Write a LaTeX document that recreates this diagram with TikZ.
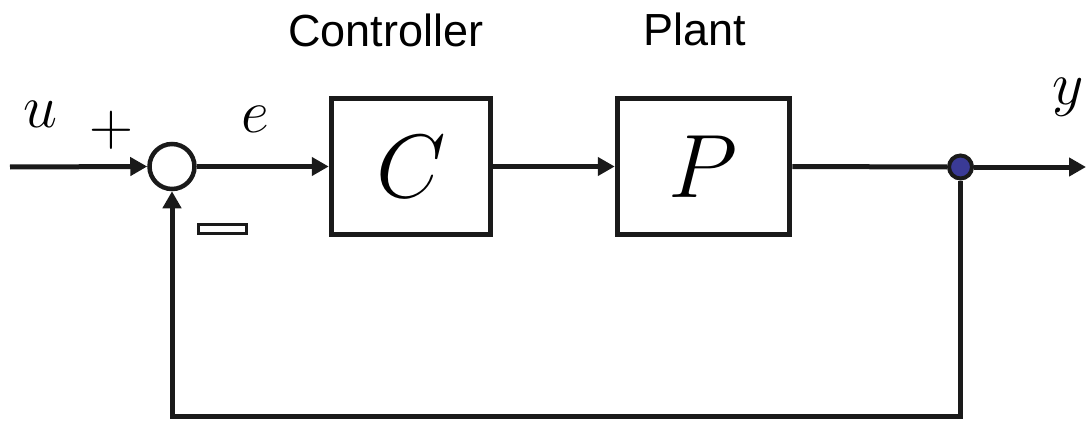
\RequirePackage{fix-cm}
\documentclass[tikz,border=0pt]{standalone}
\usepackage{fontspec}
\newfontfamily\labfont{Liberation Sans}
\usetikzlibrary{arrows.meta}
\definecolor{ink}{RGB}{26,26,26}
\definecolor{dotblue}{RGB}{58,58,150}
\tikzset{
  wire/.style={draw=ink, line width=5pt},
  arr/.style={wire, -{Triangle[length=17pt,width=18pt]}},
  blk/.style={draw=ink, line width=5.5pt, minimum height=136pt, inner sep=0pt},
  caption/.style={font=\labfont\fontsize{45}{54}\selectfont, anchor=base, inner sep=0pt},
  sym/.style={inner sep=0pt},
}
\newcommand{\bigmath}[1]{\fontsize{90}{100}\selectfont$#1$}
\newcommand{\midmath}[1]{\fontsize{61}{70}\selectfont$#1$}
\begin{document}
\begin{tikzpicture}[x=1pt,y=-1pt]
\useasboundingbox (0,0) rectangle (1086,425);

% summing junction, blocks and pick-off point
\node[draw=ink, line width=4.5pt, circle, minimum size=45pt, inner sep=0pt] (sum) at (172,166.5) {};
\node[blk, minimum width=159pt] (C) at (411,166.5) {\bigmath{C}};
\node[blk, minimum width=172pt] (P) at (703.5,166.5) {\bigmath{P}};
\node[draw=ink, line width=4pt, fill=dotblue, circle, minimum size=23pt, inner sep=0pt] (tap) at (960.5,167) {};

\coordinate (in) at (10,167);
\coordinate (out) at (1086,167);
\coordinate (br) at (960.5,416);
\coordinate (bl) at (172,416);

% block titles
\node[caption] (ctl) at (386,47) {Controller};
\node[caption] (plt) at (695,46) {Plant};

% signal labels
\node[sym] (u) at (40,114) {\midmath{u}};
\node[sym] (plus) at (111,130) {\midmath{+}};
\node[sym] (e) at (255,119) {\midmath{e}};
\node[sym] (y) at (1068,97) {\midmath{y}};

% minus sign on the feedback input
\node[draw=ink, line width=3pt, fill=white, minimum width=48pt, minimum height=9pt, inner sep=0pt] (minus) at (222.5,229) {};

% signal paths
\draw[arr] (in) -- (sum.west);
\draw[arr] (sum.east) -- (C.west);
\draw[arr] (C.east) -- (P.west);
\draw[wire] (P.east) -- (tap.west);
\draw[arr] (tap.east) -- (out);
\draw[arr, line join=miter] (tap.south) -- (br) -- (bl) -- (sum.south);
\end{tikzpicture}
\end{document}
